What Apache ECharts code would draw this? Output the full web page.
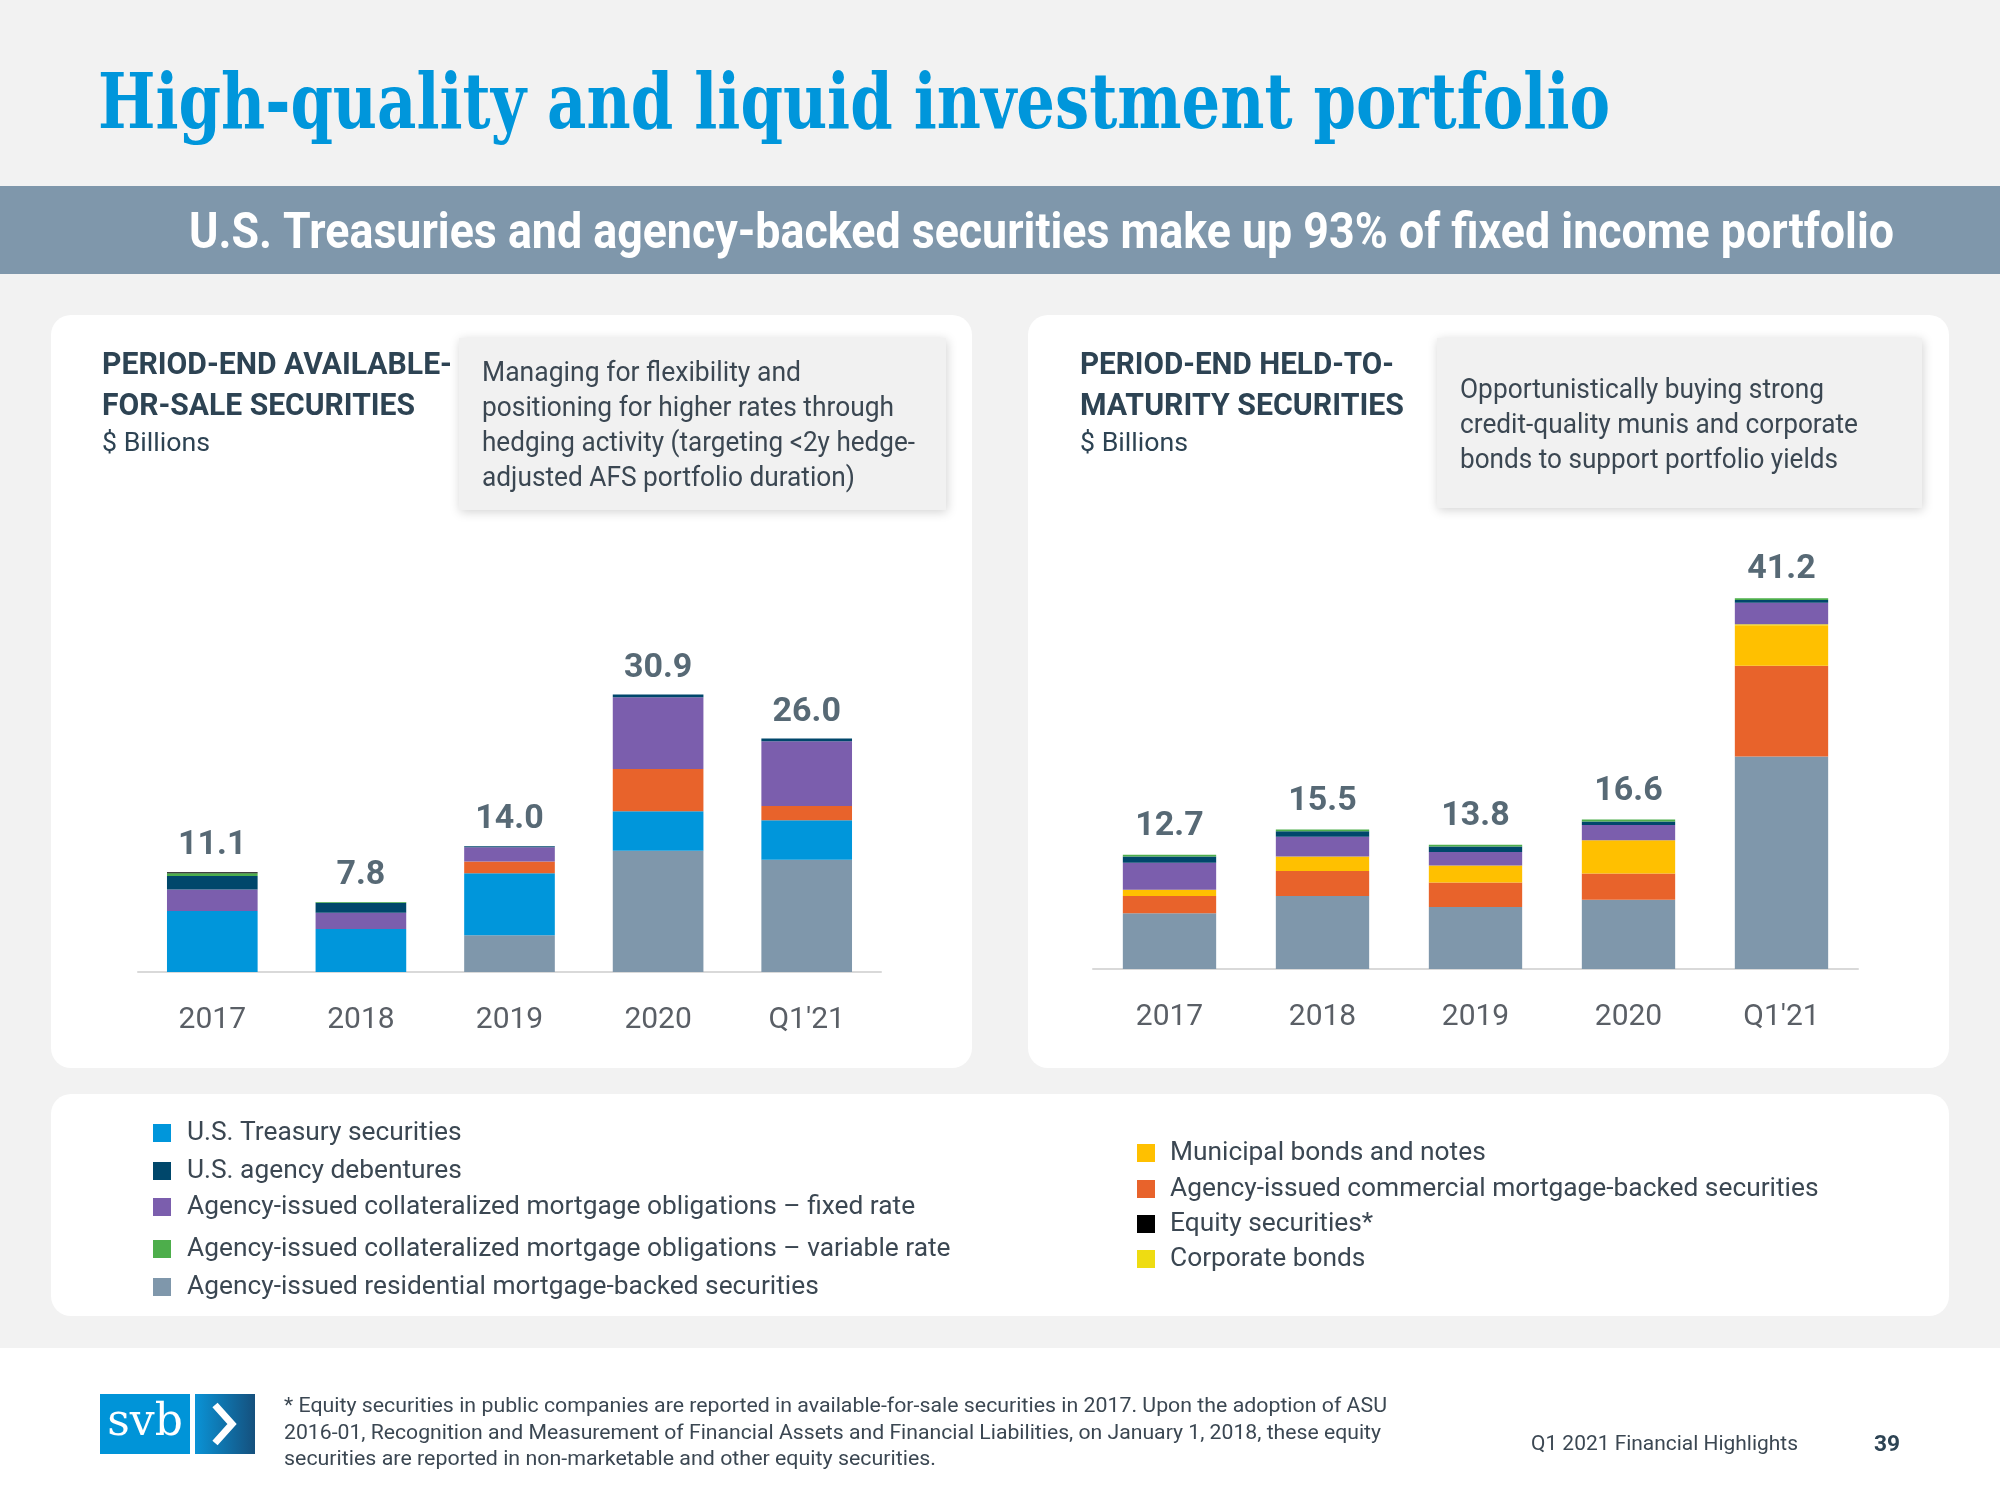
<!DOCTYPE html>
<html><head><meta charset="utf-8">
<script src="https://cdn.jsdelivr.net/npm/echarts@6/dist/echarts.min.js"></script>
<style>html,body{margin:0;padding:0;background:#f2f2f2}#c{width:2000px;height:1500px}</style>
</head><body><div id="c"></div>
<script>
// ---------- DATA ----------
const categories = ['2017', '2018', '2019', '2020', "Q1'21"];

// Available-for-sale ($B)
const afsResidentialMBS   = [0,   0,   4.1, 13.5, 12.5];
const afsTreasury         = [6.8, 4.8, 6.9, 4.4,  4.4];
const afsCommercialMBS    = [0,   0,   1.3, 4.7,  1.6];
const afsCMOFixed         = [2.4, 1.8, 1.6, 8.0,  7.2];
const afsAgencyDebentures = [1.5, 1.1, 0.1, 0.3,  0.3];
const afsCMOVariable      = [0.3, 0.1, 0,   0,    0];
const afsEquity           = [0.1, 0,   0,   0,    0];
const afsTotals           = [11.1, 7.8, 14.0, 30.9, 26.0];

// Held-to-maturity ($B)
const htmResidentialMBS   = [6.2, 8.1, 6.9, 7.7, 23.6];
const htmCommercialMBS    = [1.9, 2.8, 2.7, 2.9, 10.1];
const htmMunicipal        = [0.7, 1.6, 1.9, 3.7, 4.5];
const htmCorporate        = [0,   0,   0,   0,   0.1];
const htmCMOFixed         = [3.0, 2.2, 1.5, 1.7, 2.4];
const htmAgencyDebentures = [0.7, 0.6, 0.6, 0.4, 0.3];
const htmCMOVariable      = [0.2, 0.2, 0.2, 0.2, 0.2];
const htmTotals           = [12.7, 15.5, 13.8, 16.6, 41.2];

const NAMES = {
  treasury: 'U.S. Treasury securities',
  deb: 'U.S. agency debentures',
  cmoF: 'Agency-issued collateralized mortgage obligations – fixed rate',
  cmoV: 'Agency-issued collateralized mortgage obligations – variable rate',
  rmbs: 'Agency-issued residential mortgage-backed securities',
  muni: 'Municipal bonds and notes',
  cmbs: 'Agency-issued commercial mortgage-backed securities',
  eq: 'Equity securities*',
  corp: 'Corporate bonds'
};
const COLORS = {
  treasury: '#0096DB', deb: '#00476B', cmoF: '#7B5EAD', cmoV: '#4DAE4B',
  rmbs: '#7F97AB', muni: '#FFC000', cmbs: '#E8632B', eq: '#000000', corp: '#EEDC12'
};

// ---------- STYLE ----------
const SERIF = "'DejaVu Serif Condensed','DejaVu Serif',serif";
const COND = "'Liberation Sans Narrow','Roboto',sans-serif";
const BODY = "'Roboto','Noto Sans',sans-serif";
const DARK = '#2d4353';
const TEXT = '#3b4752';

const mctx = document.createElement('canvas').getContext('2d');
function measure(text, size, weight, family) {
  mctx.font = weight + ' ' + size + 'px ' + family;
  return mctx.measureText(text).width;
}
function txt(text, x, y, size, weight, family, color, targetW) {
  const w = measure(text, size, weight, family);
  const sx = targetW ? targetW / w : 1;
  return {
    type: 'text', x: x, y: y, scaleX: sx, z: 10,
    style: {
      text: text, fontSize: size, fontWeight: weight, fontFamily: family, fill: color,
      align: 'left', verticalAlign: 'middle', textAlign: 'left', textVerticalAlign: 'middle'
    }
  };
}

function bar(key, data, idx, stack) {
  return {
    type: 'bar', name: NAMES[key], data: data, stack: stack,
    xAxisIndex: idx, yAxisIndex: idx, barWidth: '61%',
    itemStyle: { color: COLORS[key] }, silent: true
  };
}
function totals(data, idx) {
  return {
    type: 'scatter', name: 'total' + idx, data: data, xAxisIndex: idx, yAxisIndex: idx,
    symbolSize: 1, itemStyle: { color: 'rgba(0,0,0,0)' }, silent: true, z: 6,
    label: {
      show: true, position: 'top', distance: idx === 0 ? 9 : 11,
      formatter: p => Number(p.value).toFixed(1),
      fontSize: 34, lineHeight: 34, fontWeight: 'bold', fontFamily: BODY, color: DARK
    }
  };
}

const axisX = (idx) => ({
  type: 'category', gridIndex: idx, data: categories,
  axisLine: { lineStyle: { color: '#d9d9d9', width: 2 } },
  axisTick: { show: false },
  axisLabel: { fontSize: 30, lineHeight: 30, margin: 33, color: '#5a5f66', fontFamily: BODY }
});
const axisY = (idx) => ({
  type: 'value', gridIndex: idx, min: 0, max: 45, show: false,
  splitLine: { show: false }
});

// legend font size fitted to the widest item
const legendRef = NAMES.cmoV;
let legendSize = 26 * 764 / measure(legendRef, 26, 'normal', BODY);
legendSize = Math.min(27, legendSize);

function legendItem(key, left, centerY, padLeft) {
  return {
    data: [NAMES[key]], left: left, top: centerY - 13, orient: 'vertical', padding: 0,
    icon: 'rect', itemWidth: 18, itemHeight: 18,
    textStyle: { fontSize: legendSize, lineHeight: 26, color: TEXT, fontFamily: BODY, padding: [0, 0, 0, padLeft] }
  };
}

const graphics = [
  { type: 'rect', z: 0, shape: { x: 0, y: 186, width: 2000, height: 88 }, style: { fill: '#7F97AB' } },
  { type: 'rect', z: 0, shape: { x: 51, y: 315, width: 921, height: 753, r: 20 }, style: { fill: '#ffffff' } },
  { type: 'rect', z: 0, shape: { x: 1028, y: 315, width: 921, height: 753, r: 20 }, style: { fill: '#ffffff' } },
  { type: 'rect', z: 0, shape: { x: 51, y: 1094, width: 1898, height: 222, r: 20 }, style: { fill: '#ffffff' } },
  { type: 'rect', z: 0, shape: { x: 0, y: 1348, width: 2000, height: 152 }, style: { fill: '#ffffff' } },
  { type: 'rect', z: 1, shape: { x: 459, y: 338, width: 487, height: 172 },
    style: { fill: '#f1f1f1', shadowBlur: 10, shadowColor: 'rgba(0,0,0,0.18)', shadowOffsetX: 1, shadowOffsetY: 2 } },
  { type: 'rect', z: 1, shape: { x: 1437, y: 338, width: 485, height: 170 },
    style: { fill: '#f1f1f1', shadowBlur: 10, shadowColor: 'rgba(0,0,0,0.18)', shadowOffsetX: 1, shadowOffsetY: 2 } },
  // logo
  { type: 'rect', z: 1, shape: { x: 100, y: 1394, width: 90, height: 60 }, style: { fill: '#0094D8' } },
  { type: 'rect', z: 1, shape: { x: 195, y: 1394, width: 60, height: 60 },
    style: { fill: new echarts.graphic.LinearGradient(0, 0, 1, 0, [{ offset: 0, color: '#0A93D6' }, { offset: 1, color: '#15507D' }]) } },
  { type: 'polyline', z: 2, shape: { points: [[215, 1405], [232, 1424], [215, 1443]] },
    style: { stroke: '#ffffff', lineWidth: 7, fill: null, lineJoin: 'miter' } },
  { type: 'text', z: 2, x: 145, y: 1424,
    style: { text: 'svb', fontSize: 44, fontFamily: "'DejaVu Serif',serif", fill: '#ffffff',
      align: 'center', verticalAlign: 'middle', textAlign: 'center', textVerticalAlign: 'middle' } },
  // texts
  txt('High-quality and liquid investment portfolio', 98, 108, 76, 'bold', SERIF, '#0096DB', 1512),
  txt('U.S. Treasuries and agency-backed securities make up 93% of fixed income portfolio', 189, 235, 50, 'bold', COND, '#ffffff', 1705),
  txt('PERIOD-END AVAILABLE-', 102, 366, 31, 'bold', COND, DARK, 350),
  txt('FOR-SALE SECURITIES', 102, 407, 31, 'bold', COND, DARK, 313),
  txt('$ Billions', 102, 444, 26, 'normal', BODY, DARK, 108),
  txt('PERIOD-END HELD-TO-', 1080, 366, 31, 'bold', COND, DARK, 314),
  txt('MATURITY SECURITIES', 1080, 407, 31, 'bold', COND, DARK, 324),
  txt('$ Billions', 1080, 444, 26, 'normal', BODY, DARK, 108),
  txt('Managing for flexibility and', 482, 374, 27, 'normal', BODY, TEXT, 319),
  txt('positioning for higher rates through', 482, 409, 27, 'normal', BODY, TEXT, 412),
  txt('hedging activity (targeting <2y hedge-', 482, 444, 27, 'normal', BODY, TEXT, 433),
  txt('adjusted AFS portfolio duration)', 482, 479, 27, 'normal', BODY, TEXT, 373),
  txt('Opportunistically buying strong', 1460, 391, 27, 'normal', BODY, TEXT, 364),
  txt('credit-quality munis and corporate', 1460, 426, 27, 'normal', BODY, TEXT, 398),
  txt('bonds to support portfolio yields', 1460, 461, 27, 'normal', BODY, TEXT, 378),
  txt('* Equity securities in public companies are reported in available-for-sale securities in 2017. Upon the adoption of ASU', 284, 1407, 20, 'normal', BODY, TEXT, 1103),
  txt('2016-01, Recognition and Measurement of Financial Assets and Financial Liabilities, on January 1, 2018, these equity', 284, 1434, 20, 'normal', BODY, TEXT, 1097),
  txt('securities are reported in non-marketable and other equity securities.', 284, 1460, 20, 'normal', BODY, TEXT, 652),
  txt('Q1 2021 Financial Highlights', 1531, 1445, 20, 'normal', BODY, TEXT, 267),
  txt('39', 1874, 1445, 22, 'bold', BODY, DARK, 26)
];

const option = {
  backgroundColor: '#f2f2f2',
  animation: false,
  graphic: graphics,
  grid: [
    { left: 138, top: 568, width: 743, height: 404, containLabel: false, outerBoundsMode: 'none' },
    { left: 1093, top: 564, width: 765, height: 405, containLabel: false, outerBoundsMode: 'none' }
  ],
  xAxis: [axisX(0), axisX(1)],
  yAxis: [axisY(0), axisY(1)],
  legend: [
    legendItem('treasury', 153, 1133, 11),
    legendItem('deb', 153, 1171, 11),
    legendItem('cmoF', 153, 1207, 11),
    legendItem('cmoV', 153, 1249, 11),
    legendItem('rmbs', 153, 1287, 11),
    legendItem('muni', 1137, 1153, 10),
    legendItem('cmbs', 1137, 1189, 10),
    legendItem('eq', 1137, 1224, 10),
    legendItem('corp', 1137, 1259, 10)
  ],
  series: [
    bar('rmbs', afsResidentialMBS, 0, 'afs'),
    bar('treasury', afsTreasury, 0, 'afs'),
    bar('cmbs', afsCommercialMBS, 0, 'afs'),
    bar('cmoF', afsCMOFixed, 0, 'afs'),
    bar('deb', afsAgencyDebentures, 0, 'afs'),
    bar('cmoV', afsCMOVariable, 0, 'afs'),
    bar('eq', afsEquity, 0, 'afs'),
    totals(afsTotals, 0),
    bar('rmbs', htmResidentialMBS, 1, 'htm'),
    bar('cmbs', htmCommercialMBS, 1, 'htm'),
    bar('muni', htmMunicipal, 1, 'htm'),
    bar('corp', htmCorporate, 1, 'htm'),
    bar('cmoF', htmCMOFixed, 1, 'htm'),
    bar('deb', htmAgencyDebentures, 1, 'htm'),
    bar('cmoV', htmCMOVariable, 1, 'htm'),
    totals(htmTotals, 1)
  ]
};

const chart = echarts.init(document.getElementById('c'), null, { renderer: 'canvas' });
chart.setOption(option);
</script>
</body></html>
